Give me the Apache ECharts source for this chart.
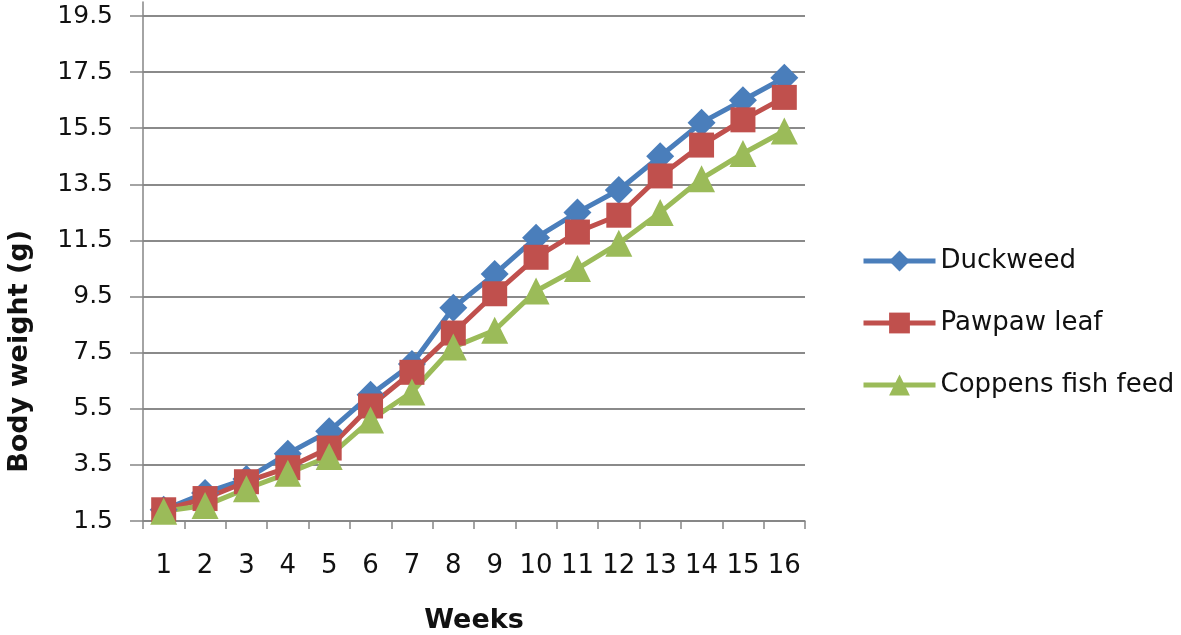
<!DOCTYPE html>
<html>
<head>
<meta charset="utf-8">
<script src="https://cdn.jsdelivr.net/npm/echarts@6/dist/echarts.min.js"></script>
<style>
html,body{margin:0;padding:0;background:#fff;}
#chart{width:1181px;height:635px;}
</style>
</head>
<body>
<div id="chart"></div>
<script>
const weeks = ['1','2','3','4','5','6','7','8','9','10','11','12','13','14','15','16'];
const duckweed = [1.9, 2.5, 3.0, 3.9, 4.7, 6.0, 7.1, 9.1, 10.3, 11.6, 12.5, 13.3, 14.5, 15.7, 16.5, 17.3];
const pawpaw   = [1.9, 2.3, 2.9, 3.4, 4.1, 5.6, 6.8, 8.2, 9.6, 10.9, 11.8, 12.4, 13.8, 14.9, 15.8, 16.6];
const coppens  = [1.85, 2.05, 2.65, 3.2, 3.8, 5.1, 6.1, 7.7, 8.3, 9.7, 10.5, 11.4, 12.5, 13.7, 14.6, 15.4];
const yTicks = [1.5, 3.5, 5.5, 7.5, 9.5, 11.5, 13.5, 15.5, 17.5, 19.5];
const seriesNames = ['Duckweed', 'Pawpaw leaf', 'Coppens fish feed'];

const FONT = 'DejaVu Sans';
const chart = echarts.init(document.getElementById('chart'), null, {renderer: 'canvas'});
const mk = (name, data, color, symbol, size) => ({
  name, type: 'line', data, symbol, symbolSize: size,
  lineStyle: {color, width: 5},
  itemStyle: {color, borderWidth: 0},
  showAllSymbol: true, animation: false, z: 2
});
chart.setOption({
  backgroundColor: '#fff',
  animation: false,
  grid: {left: 143, right: 376, top: 2, bottom: 114, containLabel: false, outerBoundsMode: 'none'},
  xAxis: {
    type: 'category', data: weeks, boundaryGap: true,
    axisLine: {lineStyle: {color: '#868686', width: 1.5}},
    axisTick: {show: true, length: 8, lineStyle: {color: '#868686', width: 1.5}},
    axisLabel: {color: '#111', fontFamily: FONT, fontSize: 26, margin: 32, interval: 0},
    name: 'Weeks', nameLocation: 'middle', nameGap: 86,
    nameTextStyle: {color: '#111', fontFamily: FONT, fontSize: 27, fontWeight: 'bold'}
  },
  yAxis: {
    type: 'value', min: 1.5, max: 20,
    axisLine: {show: true, lineStyle: {color: '#868686', width: 1.5}},
    axisTick: {show: true, length: 13, customValues: yTicks, lineStyle: {color: '#868686', width: 1.5}},
    axisLabel: {color: '#111', fontFamily: FONT, fontSize: 25, margin: 30, customValues: yTicks,
      formatter: v => v.toFixed(1)},
    splitLine: {show: true, lineStyle: {color: '#8a8a8a', width: 2}}
  },
  legend: {
    orient: 'vertical', left: 856, top: 243,
    itemWidth: 72, itemHeight: 26, itemGap: 36,
    data: seriesNames,
    lineStyle: {width: 5},
    textStyle: {color: '#111', fontFamily: FONT, fontSize: 26}
  },
  graphic: [{
    type: 'text', left: 6, top: 230, rotation: Math.PI / 2,
    style: {text: 'Body weight (g)', font: 'bold 27px "DejaVu Sans"', fill: '#111'}
  }],
  series: [
    mk(seriesNames[0], duckweed, '#4A7EBB', 'diamond', 28),
    mk(seriesNames[1], pawpaw, '#C0504D', 'rect', 25),
    mk(seriesNames[2], coppens, '#9BBB59', 'triangle', 27)
  ]
});
</script>
</body>
</html>
